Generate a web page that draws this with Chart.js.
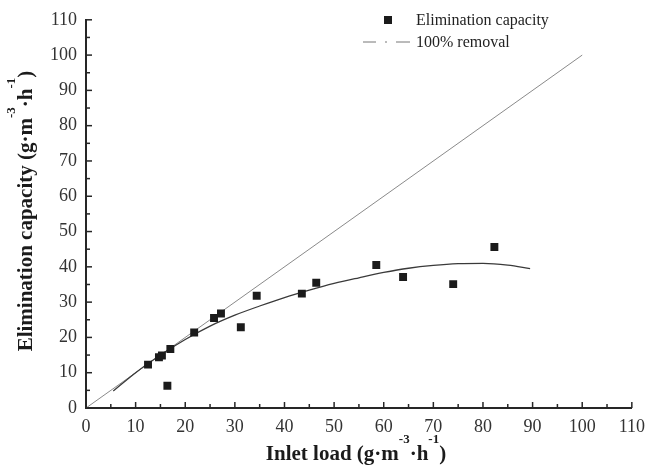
<!DOCTYPE html>
<html>
<head>
<meta charset="utf-8">
<script src="https://cdn.jsdelivr.net/npm/chart.js@4.4.1/dist/chart.umd.min.js"></script>
<style>
  html, body { margin: 0; padding: 0; background: #fff; }
  #wrap { width: 653px; height: 467px; }
</style>
</head>
<body>
<div id="wrap"><canvas id="ecChart" width="653" height="467"></canvas></div>
<script>
// measured points
var inletLoad = [12.5, 14.7, 15.3, 16.4, 17.0, 21.8, 25.8, 27.2, 31.2, 34.4, 43.5, 46.4, 58.5, 63.9, 74.0, 82.3];
var elimCap   = [12.3, 14.4, 14.9, 6.3, 16.7, 21.4, 25.5, 26.8, 22.9, 31.8, 32.4, 35.5, 40.5, 37.1, 35.1, 45.6];

// fitted curve
var fitX = [5.5, 10, 15, 20, 25, 30, 35, 40, 45, 50, 55, 60, 65, 70, 75, 80, 85, 89.5];
var fitY = [4.8, 10.0, 15.0, 19.4, 23.2, 26.3, 28.9, 31.3, 33.4, 35.3, 36.9, 38.4, 39.6, 40.4, 40.9, 41.0, 40.5, 39.5];

// 100% removal line
var fullX = [0, 100];
var fullY = [0, 100];

var xTicks = [0, 110, 10];
var yTicks = [0, 110, 10];

function toPts(xs, ys) {
  return xs.map(function (x, i) { return { x: x, y: ys[i] }; });
}

var serif = "'Liberation Serif', 'Times New Roman', serif";
var axisColor = '#262626';

// inward ticks, legend and axis titles
var extras = {
  id: 'extras',
  afterDraw: function (chart) {
    var c = chart.ctx;
    var xs = chart.scales.x, ys = chart.scales.y;
    var area = chart.chartArea;
    c.save();
    c.strokeStyle = axisColor;
    c.lineWidth = 1.5;
    for (var v = 0; v <= 110; v += 5) {
      var len = (v % 10 === 0) ? 6 : 4;
      var px = xs.getPixelForValue(v);
      c.beginPath(); c.moveTo(px, area.bottom); c.lineTo(px, area.bottom - len); c.stroke();
      var py = ys.getPixelForValue(v);
      c.beginPath(); c.moveTo(area.left, py); c.lineTo(area.left + len, py); c.stroke();
    }

    // legend
    c.fillStyle = '#1b1b1b';
    c.fillRect(384, 16, 8, 8);
    c.strokeStyle = '#777';
    c.lineWidth = 1;
    c.beginPath();
    c.moveTo(363, 42); c.lineTo(376, 42);
    c.moveTo(385, 42); c.lineTo(387, 42);
    c.moveTo(396, 42); c.lineTo(410, 42);
    c.stroke();
    c.fillStyle = '#222';
    c.font = '16px ' + serif;
    c.textBaseline = 'alphabetic';
    c.textAlign = 'left';
    c.fillText('Elimination capacity', 416, 25);
    c.fillText('100% removal', 416, 47);

    // axis titles with superscripts
    var parts = [['Inlet load (g·m', 0], ['-3', 1], ['·h', 0], ['-1', 1], [')', 0]];
    var yparts = [['Elimination capacity (g·m', 0], ['-3', 1], ['·h', 0], ['-1', 1], [')', 0]];
    function drawTitle(list, cx, base) {
      var w = 0;
      list.forEach(function (p) {
        c.font = (p[1] ? 'bold 13px ' : 'bold 21px ') + serif;
        w += c.measureText(p[0]).width;
      });
      var x = cx - w / 2;
      list.forEach(function (p) {
        c.font = (p[1] ? 'bold 13px ' : 'bold 21px ') + serif;
        c.fillText(p[0], x, p[1] ? base - 17 : base);
        x += c.measureText(p[0]).width;
      });
    }
    c.fillStyle = '#1b1b1b';
    drawTitle(parts, 356, 460);
    c.save();
    c.translate(32, 211);
    c.rotate(-Math.PI / 2);
    drawTitle(yparts, 0, 0);
    c.restore();
    c.restore();
  }
};

var ctx = document.getElementById('ecChart').getContext('2d');
var ecChart = new Chart(ctx, {
  type: 'scatter',
  data: {
    datasets: [{
      label: 'Elimination capacity',
      data: toPts(inletLoad, elimCap),
      pointStyle: 'rect',
      pointRadius: 5.6,
      borderWidth: 0,
      backgroundColor: '#1b1b1b',
      order: 0
    }, {
      label: 'fit',
      data: toPts(fitX, fitY),
      showLine: true,
      pointRadius: 0,
      borderColor: '#3a3a3a',
      borderWidth: 1.3,
      cubicInterpolationMode: 'monotone',
      order: 1
    }, {
      label: '100% removal',
      data: toPts(fullX, fullY),
      showLine: true,
      pointRadius: 0,
      borderColor: '#8a8a8a',
      borderWidth: 1,
      order: 2
    }]
  },
  plugins: [extras],
  options: {
    responsive: false,
    animation: false,
    layout: { padding: { top: 19, right: 17, left: 0, bottom: 0 } },
    plugins: {
      legend: { display: false },
      tooltip: { enabled: false }
    },
    scales: {
      x: {
        type: 'linear',
        min: xTicks[0], max: xTicks[1],
        grid: { display: false, drawTicks: false },
        border: { color: axisColor, width: 2 },
        ticks: { stepSize: xTicks[2], color: '#333', padding: 8, font: { family: serif, size: 18 } },
        afterFit: function (s) { s.height = 59; }
      },
      y: {
        min: yTicks[0], max: yTicks[1],
        grid: { display: false, drawTicks: false },
        border: { color: axisColor, width: 2 },
        ticks: { stepSize: yTicks[2], color: '#333', padding: 9, font: { family: serif, size: 18 } },
        afterFit: function (s) { s.width = 86; }
      }
    }
  }
});
</script>
</body>
</html>
